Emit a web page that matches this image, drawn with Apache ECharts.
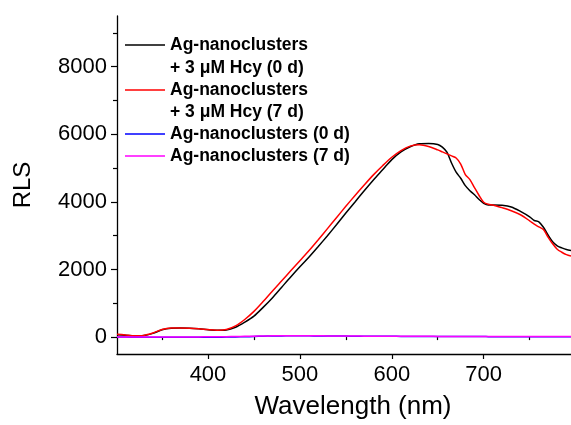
<!DOCTYPE html>
<html>
<head>
<meta charset="utf-8">
<script src="https://cdn.jsdelivr.net/npm/echarts@6/dist/echarts.min.js"></script>
<style>
  html, body { margin: 0; padding: 0; background: #fff; }
  #chart { width: 571px; height: 425px; }
</style>
</head>
<body>
<div id="chart"></div>
<script>
// wavelength (nm)
const wl = [
  301, 310, 320, 330, 340, 350, 360, 370, 380, 390,
  400, 410, 420, 430, 440, 450, 460, 470, 480, 490,
  500, 510, 520, 530, 540, 550, 560, 570, 580, 590,
  600, 610, 620, 630, 640, 650,
  655, 660, 665, 670, 675, 680, 685, 690, 695, 700, 705,
  710, 720, 730, 740, 750,
  755, 760, 765, 770, 775, 780, 785, 790, 795
];
// Ag-nanoclusters + 3 uM Hcy (0 d)
const hcy0 = [
  70, 55, 35, 45, 110, 215, 262, 268, 262, 245,
  220, 200, 210, 290, 440, 620, 880, 1160, 1470, 1780,
  2080, 2370, 2680, 3000, 3330, 3670, 4000, 4330, 4650, 4950,
  5250, 5480, 5630, 5720, 5730, 5700,
  5620, 5470, 5150, 4880, 4700, 4480, 4330, 4210, 4070, 3960, 3910,
  3910, 3900, 3850, 3720, 3560,
  3450, 3410, 3250, 3020, 2820, 2700, 2640, 2590, 2560
];
// Ag-nanoclusters + 3 uM Hcy (7 d)
const hcy7 = [
  85, 65, 40, 50, 120, 225, 268, 272, 265, 248,
  222, 205, 225, 330, 520, 760, 1050, 1360, 1660, 1960,
  2260, 2560, 2880, 3210, 3540, 3870, 4190, 4500, 4800, 5070,
  5320, 5520, 5650, 5690, 5640, 5540,
  5480, 5420, 5360, 5300, 5120, 4810, 4660, 4420, 4190, 3990, 3930,
  3910, 3830, 3740, 3620, 3440,
  3340, 3260, 3180, 2960, 2760, 2600, 2510, 2440, 2400
];
// Ag-nanoclusters (0 d)
const nc0 = [
  0, 0, -3, -5, -5, -5, -3, -2, -2, -3,
  -5, -4, 0, 5, 10, 18, 26, 32, 36, 38,
  38, 37, 35, 33, 31, 29, 27, 25, 24, 23,
  22, 21, 20, 19, 18, 17,
  17, 16, 16, 16, 15, 15, 15, 15, 15, 15, 14,
  14, 14, 13, 13, 12,
  12, 12, 12, 12, 11, 11, 11, 11, 10
];
// Ag-nanoclusters (7 d)
const nc7 = [
  5, 5, 3, 2, 2, 2, 3, 4, 5, 6,
  8, 10, 14, 18, 22, 27, 32, 37, 40, 42,
  42, 40, 38, 36, 34, 32, 30, 28, 27, 26,
  25, 24, 23, 22, 22, 21,
  21, 21, 21, 20, 20, 20, 20, 20, 20, 20, 20,
  20, 20, 19, 19, 19,
  19, 19, 19, 19, 18, 18, 18, 18, 18
];

const xMajor = [400, 500, 600, 700];
const xMinor = [350, 450, 550, 650, 750];
const yMajor = [0, 2000, 4000, 6000, 8000];
const yMinor = [1000, 3000, 5000, 7000, 9000];

const seriesNames = [
  "Ag-nanoclusters + 3 μM Hcy (0 d)",
  "Ag-nanoclusters + 3 μM Hcy (7 d)",
  "Ag-nanoclusters (0 d)",
  "Ag-nanoclusters (7 d)"
];
const seriesColors = ["#000000", "#ff0000", "#0000ff", "#ff00ff"];

const FONT = "'Liberation Sans', Arial, sans-serif";

function zip(ys) {
  return wl.map((x, i) => [x, ys[i]]);
}

const chart = echarts.init(document.getElementById("chart"), null, { renderer: "canvas" });

const axisLine = { show: true, onZero: false, lineStyle: { color: "#000", width: 1.3 } };

function legendRow(y, color, text, withLine) {
  const items = [];
  if (withLine) {
    items.push({
      type: "line",
      shape: { x1: 125, y1: y, x2: 165, y2: y },
      style: { stroke: color, lineWidth: 1.6 }
    });
  }
  items.push({
    type: "text",
    x: 170,
    y: y,
    style: {
      text: text,
      fill: "#000",
      font: "bold 17.5px " + FONT,
      verticalAlign: "middle"
    }
  });
  return items;
}

const legendItems = [].concat(
  legendRow(45, seriesColors[0], "Ag-nanoclusters", true),
  legendRow(68, seriesColors[0], "+ 3 μM Hcy (0 d)", false),
  legendRow(90, seriesColors[1], "Ag-nanoclusters", true),
  legendRow(112, seriesColors[1], "+ 3 μM Hcy (7 d)", false),
  legendRow(134, seriesColors[2], "Ag-nanoclusters (0 d)", true),
  legendRow(156, seriesColors[3], "Ag-nanoclusters (7 d)", true)
);

const option = {
  backgroundColor: "#fff",
  animation: false,
  textStyle: { fontFamily: FONT, color: "#000" },
  grid: { left: 117, right: 0, top: 16, bottom: 69 },
  xAxis: [
    {
      type: "value",
      position: "bottom",
      min: 301,
      max: 795,
      axisLine: axisLine,
      axisTick: { customValues: xMajor, length: 5, lineStyle: { color: "#000", width: 1.2 } },
      axisLabel: { customValues: xMajor, fontSize: 22, color: "#000", margin: 10,
        formatter: (v) => String(v) },
      splitLine: { show: false },
      name: "Wavelength (nm)",
      nameLocation: "middle",
      nameGap: 40,
      nameTextStyle: { fontSize: 26, color: "#000", padding: [0, 0, 0, 18] }
    },
    {
      type: "value",
      position: "bottom",
      min: 301,
      max: 795,
      axisLine: { show: false },
      axisTick: { customValues: xMinor, length: 3, lineStyle: { color: "#000", width: 1.2 } },
      axisLabel: { show: false },
      splitLine: { show: false }
    }
  ],
  yAxis: [
    {
      type: "value",
      position: "left",
      min: -500,
      max: 9500,
      axisLine: axisLine,
      axisTick: { customValues: yMajor, length: 6, lineStyle: { color: "#000", width: 1.2 } },
      axisLabel: { customValues: yMajor, fontSize: 22, color: "#000", margin: 10,
        formatter: (v) => String(v) },
      splitLine: { show: false },
      name: "RLS",
      nameLocation: "middle",
      nameGap: 82,
      nameTextStyle: { fontSize: 24, color: "#000" }
    },
    {
      type: "value",
      position: "left",
      min: -500,
      max: 9500,
      axisLine: { show: false },
      axisTick: { customValues: yMinor, length: 4, lineStyle: { color: "#000", width: 1.2 } },
      axisLabel: { show: false },
      splitLine: { show: false }
    }
  ],
  series: [hcy0, hcy7, nc0, nc7].map((ys, i) => ({
    name: seriesNames[i],
    type: "line",
    xAxisIndex: 0,
    yAxisIndex: 0,
    data: zip(ys),
    smooth: 0.3,
    showSymbol: false,
    lineStyle: { color: seriesColors[i], width: 1.5 },
    itemStyle: { color: seriesColors[i] }
  })),
  graphic: legendItems
};

chart.setOption(option);
</script>
</body>
</html>
